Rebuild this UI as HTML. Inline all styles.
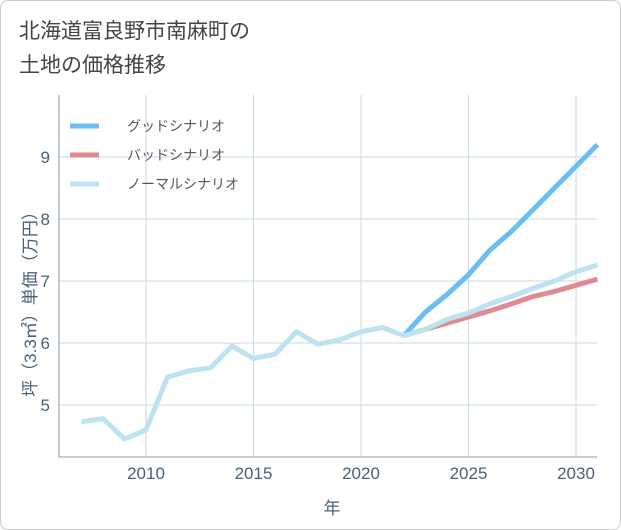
<!DOCTYPE html>
<html><head><meta charset="utf-8"><style>
body{margin:0;background:#fff;}
#wrap{position:relative;width:619px;height:528px;border:1px solid #ccc;border-radius:8px;overflow:hidden;font-family:"Liberation Sans","Noto Sans CJK JP",sans-serif;}
.title{position:absolute;left:18px;top:14px;font-size:21px;line-height:34px;color:#444;}
</style></head><body>
<div id="wrap">
<div class="title">北海道富良野市南麻町の<br>土地の価格推移</div>
<svg id="chart" width="621" height="530" style="position:absolute;left:-1px;top:-1px"></svg>
</div>
<script>
const years=[2007,2008,2009,2010,2011,2012,2013,2014,2015,2016,2017,2018,2019,2020,2021,2022,2023,2024,2025,2026,2027,2028,2029,2030,2031];
const normal=[4.73,4.78,4.45,4.6,5.45,5.55,5.6,5.95,5.75,5.82,6.18,5.98,6.05,6.18,6.25,6.12,6.22,6.38,6.48,6.63,6.75,6.88,7.0,7.15,7.26];
const goodYears=[2022,2023,2024,2025,2026,2027,2028,2029,2030,2031];
const good=[6.12,6.5,6.78,7.1,7.5,7.8,8.15,8.5,8.85,9.2];
const bad=[6.12,6.22,6.32,6.42,6.52,6.63,6.75,6.83,6.93,7.03];
const xTicks=[2010,2015,2020,2025,2030];
const yTicks=[5,6,7,8,9];
const NS="http://www.w3.org/2000/svg";
const svg=document.getElementById('chart');
const L=59,R=597,T=95,B=457;
const x=v=>146+(v-2010)*21.5;
const y=v=>405-(v-5)*62;
function mk(t,a,p){const e=document.createElementNS(NS,t);for(const k in a)e.setAttribute(k,a[k]);(p||svg).appendChild(e);return e;}
xTicks.forEach(t=>{
 const g=mk('line',{x1:x(t),x2:x(t),y1:T,y2:B,stroke:'#c9d9e6','stroke-width':1});
 
 
 const l=mk('text',{x:x(t),y:B+22,'text-anchor':'middle','font-size':17,fill:'#4a607a'});l.textContent=t;
 
 
});
yTicks.forEach(t=>{
 const g=mk('line',{x1:L,x2:R,y1:y(t),y2:y(t),stroke:'#c9d9e6','stroke-width':1});
 
 
 const l=mk('text',{x:L-9,y:y(t)+6,'text-anchor':'end','font-size':17,fill:'#4a607a'});l.textContent=t;
 
 
});
const ax=mk('path',{d:`M${L},${T} L${L},${B} L${R},${B}`,fill:'none',stroke:'#8a9aa8','stroke-width':1});


function line(xs,vs,c,n){const d=vs.map((v,i)=>(i?'L':'M')+x(xs[i]).toFixed(1)+','+y(v).toFixed(1)).join(' ');
 const p=mk('path',{d,fill:'none',stroke:c,'stroke-width':5,'stroke-linejoin':'round'});
 
 }
line(goodYears,good,'#6bbef5','good-scenario-line');
line(goodYears,bad,'#e08a92','bad-scenario-line');
line(years,normal,'#bde2f0','normal-scenario-line');
const leg=[['グッドシナリオ','#6bbef5'],['バッドシナリオ','#e08a92'],['ノーマルシナリオ','#bde2f0']];
leg.forEach((e,i)=>{const yy=126+i*29;
 const s=mk('line',{x1:70,x2:99,y1:yy,y2:yy,stroke:e[1],'stroke-width':5});
 
 
 const t=mk('text',{x:127,y:yy+5,'font-size':14,fill:'#556'});t.textContent=e[0];
 
 });
const xt=mk('text',{x:332,y:514,'text-anchor':'middle','font-size':17,fill:'#4a607a'});xt.textContent='年';


const yt=mk('text',{x:0,y:0,'text-anchor':'middle','font-size':17,fill:'#4a607a',transform:'translate(36,300) rotate(-90)'});yt.textContent='坪（3.3㎡）単価（万円）';


</script>
</body></html>
